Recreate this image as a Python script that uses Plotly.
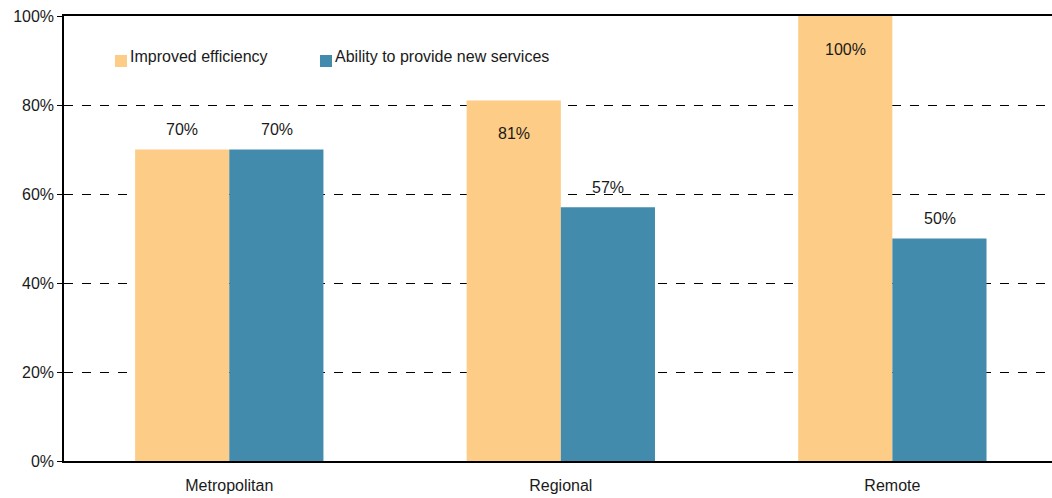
import plotly.graph_objects as go

# Share of respondents by location
categories = ["Metropolitan", "Regional", "Remote"]
series_names = ["Improved efficiency", "Ability to provide new services"]
improved_efficiency = [70, 81, 100]
new_services = [70, 57, 50]
# where each value label sits relative to its bar: "above" or "inside"
efficiency_label_pos = ["above", "inside", "inside"]
services_label_pos = ["above", "above", "above"]

y_ticks = [0, 20, 40, 60, 80, 100]
y_tick_labels = ["0%", "20%", "40%", "60%", "80%", "100%"]

colors = ["#FDCC86", "#428BAC"]
FONT = "Liberation Sans, Arial, sans-serif"
FS = 16

fig = go.Figure()
all_values = [improved_efficiency, new_services]
for name, vals, col in zip(series_names, all_values, colors):
    fig.add_trace(go.Bar(
        x=categories, y=vals, name=name, marker=dict(color=col, line=dict(width=0)),
        showlegend=False,
    ))

# value labels: offset from the top of each bar
offsets = [-0.1425, 0.1425]
for k, (vals, positions) in enumerate(zip(all_values, [efficiency_label_pos, services_label_pos])):
    for i, (v, pos) in enumerate(zip(vals, positions)):
        fig.add_annotation(
            x=i + offsets[k], y=v, xref="x", yref="y",
            text=f"{v}%", showarrow=False,
            yshift=20 if pos == "above" else -33,
            font=dict(family=FONT, size=FS, color="#1a1a1a"),
        )

# legend drawn as swatches plus text
legend_x = [115, 320]
for name, col, lx in zip(series_names, colors, legend_x):
    fig.add_shape(type="rect", xref="paper", yref="paper",
                  x0=(lx - 64) / 988, x1=(lx + 12 - 64) / 988,
                  y0=(461 - 67) / 445, y1=(461 - 55) / 445,
                  fillcolor=col, line=dict(width=0))
    fig.add_annotation(xref="paper", yref="paper",
                       x=(lx + 13 - 64) / 988, y=(461 - 57) / 445,
                       text=name, showarrow=False, xanchor="left", yanchor="middle",
                       font=dict(family=FONT, size=FS, color="#1a1a1a"))

fig.update_layout(
    width=1052, height=498,
    margin=dict(l=64, r=0, t=16, b=37),
    paper_bgcolor="white", plot_bgcolor="white",
    barmode="group", bargap=0.432, bargroupgap=0,
    font=dict(family=FONT, size=FS, color="#1a1a1a"),
)
fig.update_xaxes(
    range=[-0.4985, 2.4815], showline=True, linecolor="black", linewidth=1.5,
    mirror=True, ticks="", showgrid=False, ticklabelstandoff=9,
    tickfont=dict(family=FONT, size=FS, color="#1a1a1a"),
)
fig.update_yaxes(
    range=[0, 100], tickvals=y_ticks, ticktext=y_tick_labels,
    showline=True, linecolor="black", linewidth=1.5,
    ticks="outside", ticklen=5, tickcolor="black",
    showgrid=True, gridcolor="black", gridwidth=1, griddash="dash",
    zeroline=False,
    tickfont=dict(family=FONT, size=FS, color="#1a1a1a"),
)

fig.write_html("out.html")
